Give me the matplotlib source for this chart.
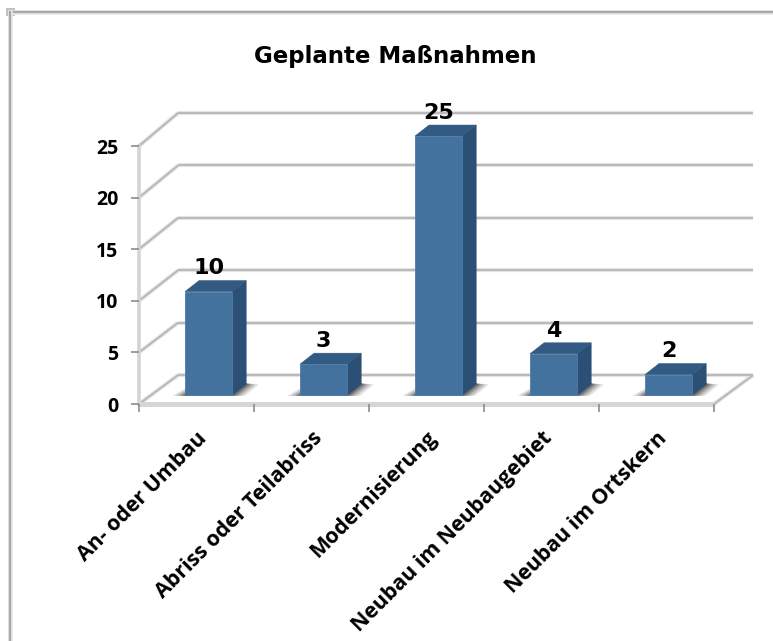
import matplotlib
matplotlib.use("Agg")
import matplotlib.pyplot as plt
from matplotlib.lines import Line2D
from matplotlib.patches import Rectangle

categories = ["An- oder Umbau", "Abriss oder Teilabriss", "Modernisierung",
              "Neubau im Neubaugebiet", "Neubau im Ortskern"]
values = [10, 3, 25, 4, 2]
y_ticks = [0, 5, 10, 15, 20, 25]

W, H = 773, 641

# oblique "3D" depth, in axis units (categories / value)
DEPTH_X = 0.34
DEPTH_Y = 2.8
BACK_SCALE = 1.016
BAR_LEFT = 0.40
BAR_WIDTH = 0.41
BAR_FRONT = 0.30  # how far back the front of a bar sits
BAR_DX = 0.122
BAR_DY = 1.07


def grid_line(ax, xs, ys):
    ax.plot(xs, ys, color="#e4e4e4", lw=3.0, clip_on=False, zorder=1,
            solid_capstyle="butt")
    ax.plot(xs, ys, color="#b6b6b6", lw=1.3, clip_on=False, zorder=1.1,
            solid_capstyle="butt")


def draw_walls(ax):
    x_end = len(categories)
    for v in y_ticks:
        back = v * BACK_SCALE + DEPTH_Y
        grid_line(ax, [DEPTH_X, x_end + DEPTH_X], [back, back])
        grid_line(ax, [0, DEPTH_X], [v, back])
    # floor edges
    grid_line(ax, [x_end, x_end + DEPTH_X], [0, DEPTH_Y])
    ax.plot([0, 0], [0, y_ticks[-1]], color="#d4d4d4", lw=2.6, clip_on=False, zorder=1.2)
    ax.plot([0, x_end], [0, 0], color="#d6d6d6", lw=3.6, clip_on=False, zorder=1.2,
            solid_capstyle="butt")


def draw_bar(ax, i, value):
    x0 = i + BAR_LEFT
    x1 = x0 + BAR_WIDTH
    y0 = BAR_FRONT * DEPTH_Y
    height = value * (1 + BAR_FRONT * (BACK_SCALE - 1))
    y1 = y0 + height

    # soft shadow on the floor, darkest next to the bar
    for grow, alpha in zip([0.11, 0.08, 0.05, 0.025], [0.14, 0.20, 0.26, 0.34]):
        ax.fill([x0 - grow, x1 + grow, x1 + BAR_DX + grow, x1 + BAR_DX, x0],
                [y0 - 0.05, y0 - 0.05, y0 + BAR_DY * 0.98, y0 + BAR_DY * 1.1, y0 + grow * 6],
                color="#2a2a2a", alpha=alpha, lw=0, clip_on=False, zorder=2)

    ax.fill([x1, x1 + BAR_DX, x1 + BAR_DX, x1],
            [y0, y0 + BAR_DY, y1 + BAR_DY, y1],
            color="#2b4f75", lw=0.4, clip_on=False, zorder=3)
    ax.fill([x0, x1, x1 + BAR_DX, x0 + BAR_DX],
            [y1, y1, y1 + BAR_DY, y1 + BAR_DY],
            color="#335a82", lw=0.4, clip_on=False, zorder=3)
    ax.add_patch(Rectangle((x0, y0), BAR_WIDTH, height, facecolor="#44729f",
                           edgecolor="#4f7ca8", lw=0.6, clip_on=False, zorder=4))
    ax.text(x0 + BAR_WIDTH / 2, y1 + 2.25, str(value), ha="center", va="center",
            fontsize=16, fontweight="bold", family="DejaVu Sans", color="black",
            clip_on=False, zorder=5)


def main():
    fig = plt.figure(figsize=(W / 100, H / 100), dpi=100)
    ax = fig.add_axes([139 / W, (H - 404) / H, 575 / W, 258 / H])
    ax.set_xlim(0, len(categories))
    ax.set_ylim(0, y_ticks[-1])
    for spine in ax.spines.values():
        spine.set_visible(False)

    draw_walls(ax)
    for i, value in enumerate(values):
        draw_bar(ax, i, value)

    ax.set_yticks(y_ticks)
    ax.set_xticks(range(len(categories) + 1))
    ax.set_xticklabels([])
    ax.tick_params(axis="both", which="major", color="#8c8c8c", width=1.2, length=6)
    ax.tick_params(axis="y", pad=9, labelsize=14)
    for lab in ax.get_yticklabels():
        lab.set_fontfamily("Open Sans")
        lab.set_fontweight("bold")

    ax.set_xticks([i + 0.5 for i in range(len(categories))], minor=True)
    ax.set_xticklabels(categories, minor=True, rotation=45, ha="right",
                       rotation_mode="anchor", fontsize=15.4, fontweight="bold",
                       family="Open Sans")
    ax.tick_params(axis="x", which="minor", length=0, pad=17)

    fig.text(395 / W, 1 - 56 / H, "Geplante Maßnahmen", ha="center", va="center",
             fontsize=16.5, fontweight="bold", family="DejaVu Sans")

    # chart frame, cut off at the edges of the screenshot
    for xs, ys in [([10, W], [12, 12]), ([10, 10], [12, H])]:
        fig.add_artist(Line2D([x / W for x in xs], [1 - y / H for y in ys],
                              color="#e6e6e6", lw=3.4))
        fig.add_artist(Line2D([x / W for x in xs], [1 - y / H for y in ys],
                              color="#a8a8a8", lw=1.6))
    fig.add_artist(Rectangle((7.5 / W, 1 - 15 / H), 6 / W, 6 / H, facecolor="white",
                             edgecolor="#b4b4b4", lw=1.2, transform=fig.transFigure))

    fig.savefig("out.png", dpi=100)


if __name__ == '__main__':
    main()
